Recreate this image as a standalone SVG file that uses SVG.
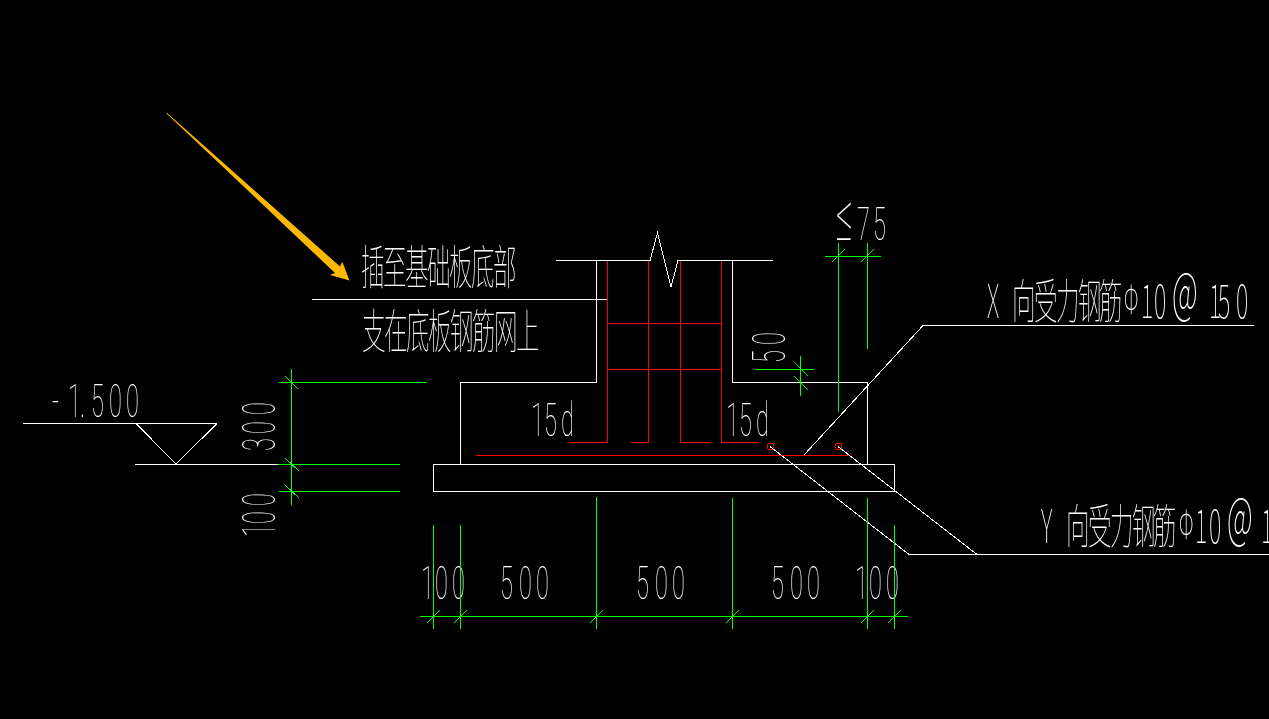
<svg xmlns="http://www.w3.org/2000/svg" width="1269" height="719" viewBox="0 0 1269 719">
<style>
.w{stroke:#fff;fill:none;stroke-width:1}
.g{stroke:#0f0;fill:none;stroke-width:1}
.r{stroke:#f00;fill:none;stroke-width:1}
path,rect,circle{shape-rendering:crispEdges}
text{fill:#fff;font-family:"Roboto","Noto Sans CJK SC",sans-serif;font-weight:100;font-size:47px}
.c{font-family:"Noto Sans CJK SC","Roboto",sans-serif}
</style>
<rect width="1269" height="719" fill="#000"/>
<g id="labels" opacity=".995">
<text class="c" transform="scale(.5,1)" y="284" x="722 766 810 854 898 942 986">插至基础板底部</text>
<text class="c" transform="scale(.5,1)" y="348" x="724 768 812 856 900 944 988 1032">支在底板钢筋网上</text>
<text transform="scale(.5,1)" y="417" x="104 136 160 182 218 252">-1.500</text>
<text transform="scale(.5,1)" y="436" x="1062 1088 1122">15d</text>
<text transform="scale(.5,1)" y="436" x="1452 1478 1512">15d</text>
<text transform="scale(.5,1)" y="240" x="1672 1714 1746"><tspan font-size="66">≤</tspan>75</text>
<text transform="translate(785,362) rotate(-90) scale(.5,1)" x="-2 34">50</text>
<text transform="translate(275,450) rotate(-90) scale(.5,1)" x="-2 32 70">300</text>
<text transform="translate(275,537) rotate(-90) scale(.5,1)" x="0 26 62">100</text>
<text transform="scale(.5,1)" y="599" x="842 870 904">100</text>
<text transform="scale(.5,1)" y="599" x="1000 1038 1072">500</text>
<text transform="scale(.5,1)" y="599" x="1272 1310 1344">500</text>
<text transform="scale(.5,1)" y="599" x="1542 1580 1614">500</text>
<text transform="scale(.5,1)" y="599" x="1710 1738 1772">100</text>
<text class="c" transform="scale(.5,1)" y="318" x="1974 2000 2024 2068 2112 2156 2198">X 向受力钢筋<tspan x="2248" y="313" font-size="38">Φ</tspan><tspan y="318" x="2282 2308">10</tspan><tspan x="2344" font-size="58" y="313">@</tspan><tspan y="318" x="2418 2436 2472">150</tspan></text>
<text class="c" transform="scale(.5,1)" y="543" x="2082 2108 2132 2176 2220 2264 2306">Y 向受力钢筋<tspan x="2358" y="538" font-size="38">Φ</tspan><tspan y="543" x="2390 2418">10</tspan><tspan x="2454" font-size="58" y="538">@</tspan><tspan y="543" x="2522">1</tspan></text>
</g>
<g id="arrow"><polygon points="166.500,112.500 340,266.500 342.300,261.700 349.500,280.500 330,275 335,273 166.500,113.500" fill="#ffb800"/></g>
<g id="structure">
<path class="w" d="M555.500 260.500H650L657.500 233L671 287L678 260.500H772.500"/>
<path class="w" d="M312 299.500H607"/>
<path class="w" d="M596.500 260.500V382.500H460.500V464"/>
<path class="w" d="M732.500 260.500V382.500H867.500V464"/>
<rect class="w" x="433.500" y="464.500" width="461" height="27"/>
<path class="w" d="M23 423.500H217M136 423.500L176 464L217 423.500M135 464.500H278"/>
</g>
<g id="rebar">
<path class="r" d="M569 442.500H607.500V260.500M631 442.500H648.500V260.500M711 442.500H680.500V260.500M759 442.500H721.500V260.500"/>
<path class="r" d="M607.500 323.500H721.500M607.500 369.500H721.500M476 455.500H850"/>
<rect class="r" x="767.500" y="443.500" width="6" height="6" rx="2"/>
<rect class="r" x="835.500" y="443.500" width="6" height="6" rx="2"/>
</g>
<g id="leaders">
<path class="w" d="M804 455L923 325.500H1254"/>
<path class="w" d="M770 446.500L909 554.500H1269M838 446.500L977 554.500"/>
</g>
<g id="dimensions">
<path class="g" d="M291.500 369V505M279 382.500H427M278 464.500H400M279 491.500H400M285 376L298 389M285 458L299 471M285 485L299 498"/>
<path class="g" d="M838.500 243V412M867.500 243V349M825 256.500H881M832 262L845 249M861 262L874 249"/>
<path class="g" d="M800.500 356V396M755 369.500H814M794 362L808 376M794 376L808 390"/>
<path class="g" d="M420 616.500H908M433.500 525V629M460.500 525V629M596.500 497V629M732.500 498V629M867.500 498V629M894.500 525V629"/>
<path class="g" d="M427 623L440 610M454 623L467 610M590 623L603 610M726 623L739 610M861 623L874 610M888 623L901 610"/>
</g>
</svg>
